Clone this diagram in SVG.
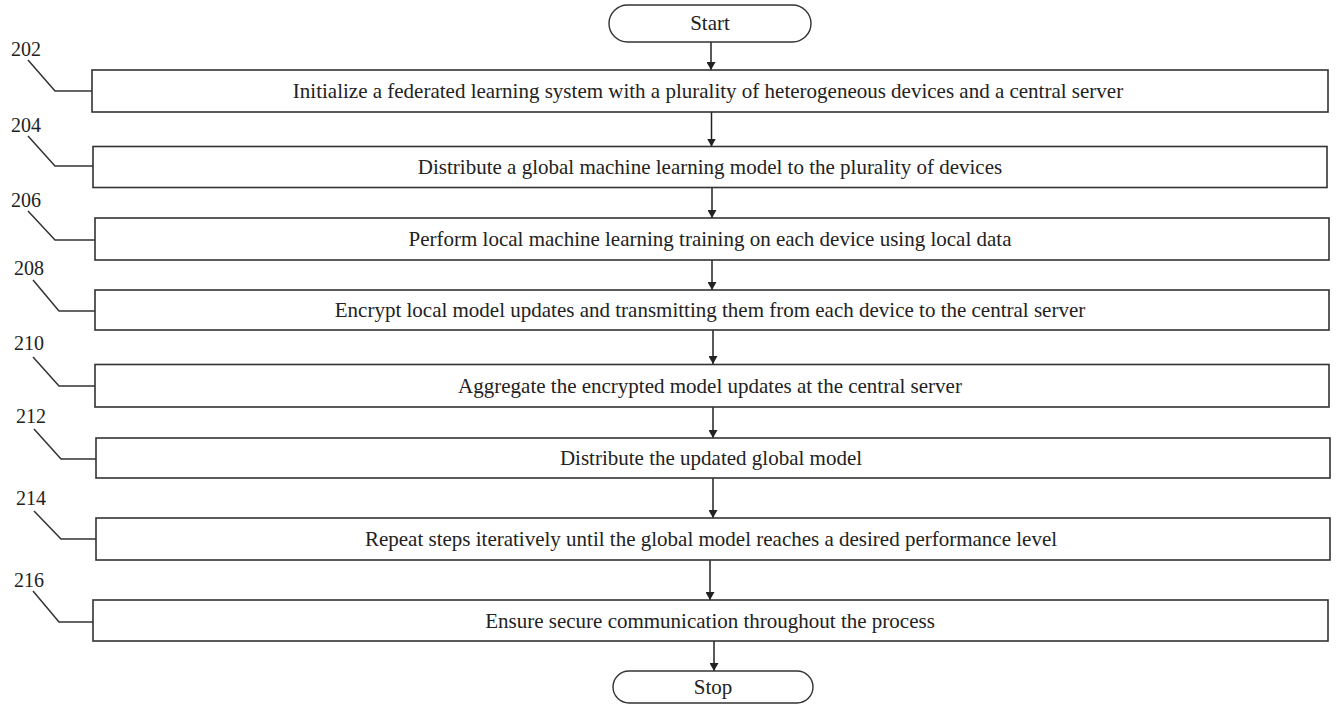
<svg xmlns="http://www.w3.org/2000/svg" width="1336" height="706" viewBox="0 0 1336 706">
<defs>
<marker id="ah" markerWidth="8" markerHeight="9" refX="8" refY="4.5" orient="auto" markerUnits="userSpaceOnUse">
<path d="M0,0 L8,4.5 L0,9 Z" fill="#222"/>
</marker>
<style>
.box{fill:#fff;stroke:#333;stroke-width:1.6}
.term{fill:#fff;stroke:#333;stroke-width:1.4}
.t{font-family:"Liberation Serif","Times New Roman",serif;font-size:21px;fill:#222;text-anchor:middle}
.n{font-family:"Liberation Serif","Times New Roman",serif;font-size:20px;fill:#222}
.lead{fill:none;stroke:#333;stroke-width:1.5}
.c{stroke:#222;stroke-width:1.5;fill:none;marker-end:url(#ah)}
</style>
</defs>
<rect width="1336" height="706" fill="#fff"/>
<g id="connectors">
<line class="c" x1="711" y1="42" x2="711" y2="70"/>
<line class="c" x1="711.5" y1="112" x2="711.5" y2="146.5"/>
<line class="c" x1="712" y1="188" x2="712" y2="218"/>
<line class="c" x1="712" y1="260" x2="712" y2="290"/>
<line class="c" x1="713" y1="330" x2="713" y2="364"/>
<line class="c" x1="713" y1="407" x2="713" y2="438"/>
<line class="c" x1="713" y1="478" x2="713" y2="518"/>
<line class="c" x1="710" y1="560" x2="710" y2="600"/>
<line class="c" x1="714" y1="641" x2="714" y2="671"/>
</g>
<g id="start">
<rect class="term" x="609" y="5" width="202" height="37" rx="18.5" ry="18.5"/>
<text class="t" x="710" y="30">Start</text>
</g>
<g id="n202">
<rect class="box" x="92" y="70" width="1236" height="42"/>
<text class="t" x="708" y="98">Initialize a federated learning system with a plurality of heterogeneous devices and a central server</text>
<text class="n" x="11" y="56">202</text>
<polyline class="lead" points="28,60 55,91 92,91"/>
</g>
<g id="n204">
<rect class="box" x="93" y="146.5" width="1234" height="41"/>
<text class="t" x="710" y="174">Distribute a global machine learning model to the plurality of devices</text>
<text class="n" x="11" y="132">204</text>
<polyline class="lead" points="28,136 55,166 93,166"/>
</g>
<g id="n206">
<rect class="box" x="95" y="218" width="1234" height="42"/>
<text class="t" x="710" y="246">Perform local machine learning training on each device using local data</text>
<text class="n" x="11" y="207">206</text>
<polyline class="lead" points="28,211 55,240 95,240"/>
</g>
<g id="n208">
<rect class="box" x="95" y="290" width="1234" height="40"/>
<text class="t" x="710" y="317">Encrypt local model updates and transmitting them from each device to the central server</text>
<text class="n" x="14" y="275">208</text>
<polyline class="lead" points="33,280 59,311 95,311"/>
</g>
<g id="n210">
<rect class="box" x="95" y="364.5" width="1234" height="42.5"/>
<text class="t" x="710" y="393">Aggregate the encrypted model updates at the central server</text>
<text class="n" x="14" y="350">210</text>
<polyline class="lead" points="33,357 59,386 95,386"/>
</g>
<g id="n212">
<rect class="box" x="96" y="438" width="1234" height="40"/>
<text class="t" x="711" y="465">Distribute the updated global model</text>
<text class="n" x="16" y="423">212</text>
<polyline class="lead" points="34,429 61,459 96,459"/>
</g>
<g id="n214">
<rect class="box" x="96" y="518" width="1234" height="42"/>
<text class="t" x="711" y="546">Repeat steps iteratively until the global model reaches a desired performance level</text>
<text class="n" x="16" y="505">214</text>
<polyline class="lead" points="34,511 61,539 96,539"/>
</g>
<g id="n216">
<rect class="box" x="93" y="600" width="1235" height="41"/>
<text class="t" x="710" y="628">Ensure secure communication throughout the process</text>
<text class="n" x="14" y="587">216</text>
<polyline class="lead" points="33,591 59,622 93,622"/>
</g>
<g id="stop">
<rect class="term" x="613" y="671" width="200" height="32" rx="16" ry="16"/>
<text class="t" x="713" y="694">Stop</text>
</g>
</svg>
